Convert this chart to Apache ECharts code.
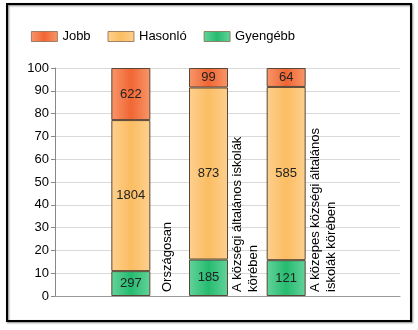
<!DOCTYPE html>
<html><head><meta charset="utf-8">
<script src="https://cdn.jsdelivr.net/npm/echarts@6/dist/echarts.min.js"></script>
<style>html,body{margin:0;padding:0;background:#fff}#c{width:418px;height:330px}</style>
</head><body><div id="c"></div>
<script>
// ---- data ----
const categories = ['Országosan', 'A községi általános iskolák\nkörében', 'A közepes községi általános\niskolák körében'];
const seriesNames = ['Jobb', 'Hasonló', 'Gyengébb'];
const jobb = [622, 99, 64];
const hasonlo = [1804, 873, 585];
const gyengebb = [297, 185, 121];
const yMin = 0, yMax = 100, yStep = 10;

// ---- build ----
const totals = categories.map((_, i) => jobb[i] + hasonlo[i] + gyengebb[i]);
const pct = arr => arr.map((v, i) => v / totals[i] * 100);
const FONT = 'Liberation Sans, Arial, sans-serif';
const grad = (edge, mid) => new echarts.graphic.LinearGradient(0, 0, 1, 0, [
  {offset: 0, color: edge}, {offset: 0.5, color: mid}, {offset: 1, color: edge}]);

function mkSeries(name, counts, edge, mid) {
  return {
    name: name, type: 'bar', stack: 'total', xAxisIndex: 1, yAxisIndex: 1,
    barWidth: 39,
    data: pct(counts),
    itemStyle: {color: grad(edge, mid), borderColor: '#5a4636', borderWidth: 1},
    label: {show: true, position: 'inside', color: '#222', fontFamily: FONT, fontSize: 13,
      formatter: p => String(counts[p.dataIndex])},
    emphasis: {disabled: true}
  };
}

const chart = echarts.init(document.getElementById('c'), null, {renderer: 'canvas'});
const gTop = 68, gBottom = 34;
chart.setOption({
  animation: false,
  backgroundColor: '#fff',
  graphic: [{type: 'rect', shape: {x: 7, y: 4, width: 404, height: 317},
    style: {fill: 'none', stroke: '#000', lineWidth: 2, shadowBlur: 2, shadowOffsetX: 1, shadowOffsetY: 1, shadowColor: 'rgba(0,0,0,0.5)'}, z: 100}],
  legend: {
    data: seriesNames, left: 26, top: 25, itemWidth: 26, itemHeight: 10, itemGap: 17,
    icon: 'rect',
    itemStyle: {borderWidth: 0.8, borderColor: '#8a6a50'},
    textStyle: {fontFamily: FONT, fontSize: 13, color: '#000'}, selectedMode: false
  },
  grid: [
    {left: 55, right: 18, top: gTop, bottom: gBottom, outerBoundsMode: 'none'},
    {left: 92, width: 233, top: gTop, bottom: gBottom, outerBoundsMode: 'none'},
    {left: 129, width: 233, top: gTop, bottom: gBottom, outerBoundsMode: 'none'}
  ],
  xAxis: [
    {gridIndex: 0, type: 'category', data: [''], axisLine: {show: true, lineStyle: {color: '#999', width: 1}},
      axisTick: {show: false}, axisLabel: {show: false}},
    {gridIndex: 1, type: 'category', data: categories, show: false},
    {gridIndex: 2, type: 'category', data: categories,
      axisLine: {show: false}, axisTick: {show: false},
      axisLabel: {inside: true, rotate: 90, interval: 0, margin: 4, color: '#000',
        fontFamily: FONT, fontSize: 13, lineHeight: 16, hideOverlap: false}}
  ],
  yAxis: [
    {gridIndex: 0, type: 'value', min: yMin, max: yMax, interval: yStep,
      axisLine: {show: true, lineStyle: {color: '#888'}},
      axisTick: {show: true, length: 4, lineStyle: {color: '#888'}},
      axisLabel: {color: '#000', fontFamily: FONT, fontSize: 13, margin: 6},
      splitLine: {show: true, lineStyle: {color: '#d9d9d9'}}},
    {gridIndex: 1, type: 'value', min: yMin, max: yMax, show: false, splitLine: {show: false}},
    {gridIndex: 2, type: 'value', min: yMin, max: yMax, show: false, splitLine: {show: false}}
  ],
  series: [
    mkSeries('Gyengébb', gyengebb, '#63d39b', '#26bb70'),
    mkSeries('Hasonló', hasonlo, '#fdd08e', '#fbbd62'),
    mkSeries('Jobb', jobb, '#f7966a', '#f16633')
  ]
});
</script></body></html>
